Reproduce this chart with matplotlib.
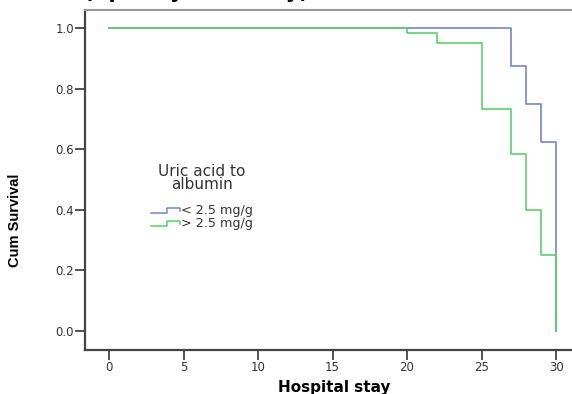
import matplotlib
matplotlib.use("Agg")
import matplotlib.pyplot as plt
from matplotlib.legend_handler import HandlerBase
from matplotlib.lines import Line2D

# Kaplan-Meier step curves
low_times = [0, 27, 28, 29, 30]
low_surv = [1.0, 0.875, 0.75, 0.625, 0.0]
high_times = [0, 20, 22, 25, 27, 28, 29, 30]
high_surv = [1.0, 0.983, 0.95, 0.733, 0.583, 0.40, 0.25, 0.0]
x_ticks = [0, 5, 10, 15, 20, 25, 30]
y_ticks = [0.0, 0.2, 0.4, 0.6, 0.8, 1.0]
group_labels = ["< 2.5 mg/g", "> 2.5 mg/g"]

BLUE = "#7388cc"
GREEN = "#5ccf6a"
FONT = "DejaVu Sans"


class StepHandler(HandlerBase):
    # small step-shaped legend key like the SPSS output
    def create_artists(self, legend, orig, xd, yd, w, h, fontsize, trans):
        y0 = yd + 0.15 * h
        y1 = yd + 0.7 * h
        xs = [xd, xd + 0.55 * w, xd + 0.55 * w, xd + w, xd + w]
        ys = [y0, y0, y1, y1, y0 + 0.2 * h]
        ln = Line2D(xs, ys, color=orig.get_color(), lw=1.1, transform=trans)
        return [ln]


fig = plt.figure(figsize=(5.72, 3.94), dpi=100)
ax = fig.add_axes([85 / 572, 44 / 394, 487 / 572, 340 / 394])

l1, = ax.step(low_times, low_surv, where="post", color=BLUE, lw=1.2)
l2, = ax.step(high_times, high_surv, where="post", color=GREEN, lw=1.2)

ax.set_xlim(-1.61, 31.07)
ax.set_ylim(-0.063, 1.06)
ax.set_xticks(x_ticks)
ax.set_yticks(y_ticks)
ax.set_xticklabels([str(t) for t in x_ticks], fontsize=8.5, family=FONT, color="#333")
ax.set_yticklabels([f"{t:.1f}" for t in y_ticks], fontsize=8.5, family=FONT, color="#333")
ax.tick_params(axis="both", direction="out", length=7, width=1.3, color="#444", pad=1)

for side in ["left", "bottom"]:
    ax.spines[side].set_color("#444")
    ax.spines[side].set_linewidth(1.6)
ax.spines["top"].set_color("#999")
ax.spines["top"].set_linewidth(1.5)
ax.spines["right"].set_visible(False)

ax.set_xlabel("Hospital stay", fontsize=11, fontweight="bold", family=FONT)
ax.xaxis.set_label_coords(0.511, -0.088)
ax.set_ylabel("Cum Survival", fontsize=10.5, fontweight="bold", family="Liberation Sans")
ax.yaxis.set_label_coords(-0.13, 0.382)

# legend title drawn separately so its spacing can match
fig.text(202 / 572, 1 - 178 / 394, "Uric acid to\nalbumin", ha="center", va="center",
         fontsize=11, family=FONT, color="#333", linespacing=0.9, multialignment="center")

leg = ax.legend([l1, l2], group_labels, handler_map={Line2D: StepHandler()},
                loc="upper left", bbox_to_anchor=(145 / 572, 1 - 198 / 394),
                bbox_transform=fig.transFigure, frameon=False,
                prop={"family": FONT, "size": 9.2}, handlelength=2.2,
                handletextpad=0.1, labelspacing=0.0, borderpad=0.0)
for t in leg.get_texts():
    t.set_color("#333")

fig.text(84 / 572, 1 + 2 / 394, "(Split by mortality)", fontsize=15, fontweight="bold",
         family=FONT, va="baseline", ha="left")

fig.savefig("out.png", dpi=100)
